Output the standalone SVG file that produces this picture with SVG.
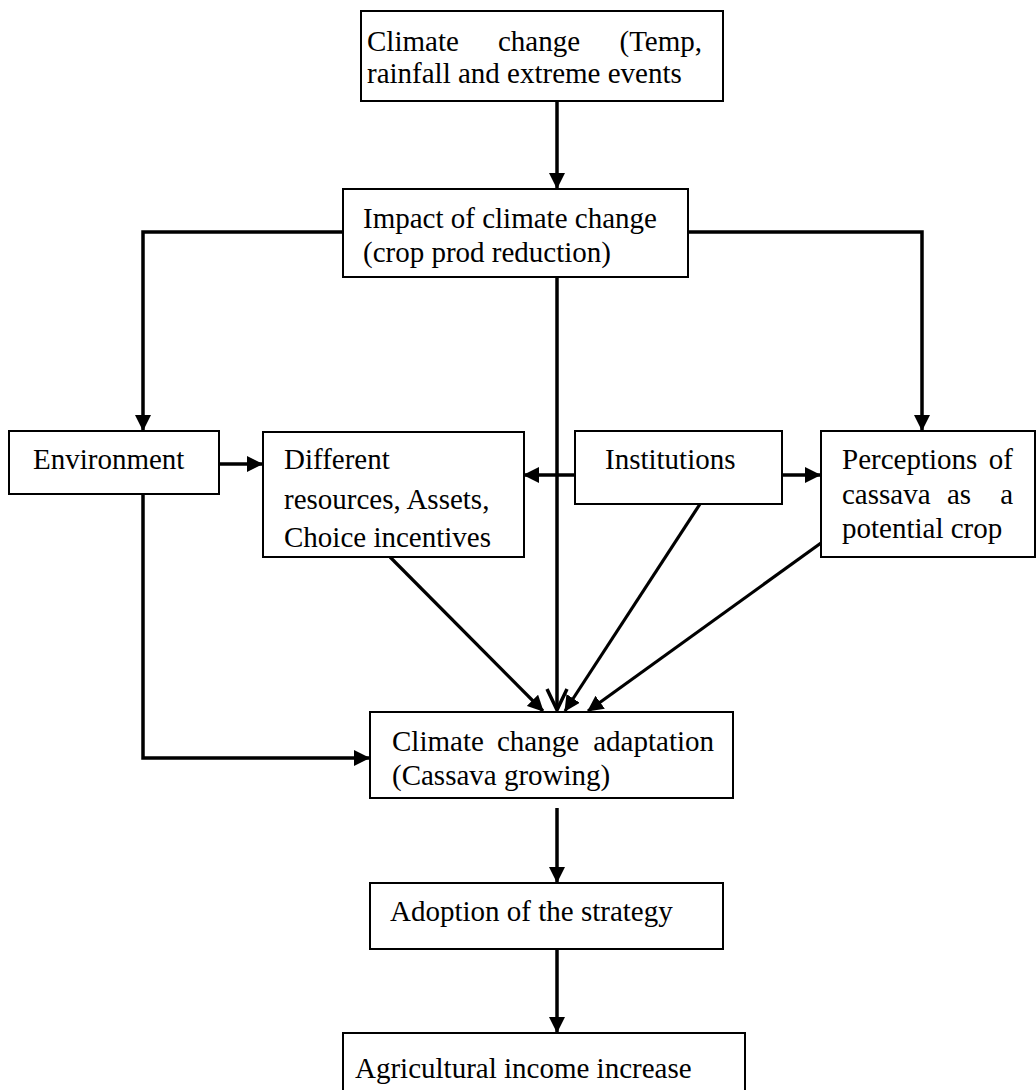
<svg xmlns="http://www.w3.org/2000/svg" width="1036" height="1090" viewBox="0 0 1036 1090">
<defs>
<style>
.box{fill:#fff;stroke:#000;stroke-width:2}
.t{font-family:"Liberation Serif","Times New Roman",serif;font-size:29px;fill:#000}
.c{fill:none;stroke:#000;stroke-width:3.5}
.d{fill:none;stroke:#000;stroke-width:3.2}
</style>
<marker id="ah" viewBox="0 0 16 16" refX="15" refY="8" markerWidth="16" markerHeight="16" markerUnits="userSpaceOnUse" orient="auto">
<path d="M0,0 L16,8 L0,16 Z" fill="#000"/>
</marker>
</defs>
<rect width="1036" height="1090" fill="#fff"/>
<g id="connectors">
<path class="c" d="M557,101 V188" marker-end="url(#ah)"/>
<path class="c" d="M343,232 H143 V430" marker-end="url(#ah)"/>
<path class="c" d="M688,232 H922 V430" marker-end="url(#ah)"/>
<path class="c" d="M219,464 H262" marker-end="url(#ah)"/>
<path class="c" d="M575,475 H524" marker-end="url(#ah)"/>
<path class="c" d="M782,475 H820" marker-end="url(#ah)"/>
<path class="d" d="M390,557 L543,711" marker-end="url(#ah)"/>
<path class="d" d="M700,504 L565,711" marker-end="url(#ah)"/>
<path class="d" d="M821,543 L588,711" marker-end="url(#ah)"/>
<path class="c" d="M557,277 V710"/>
<path class="c" d="M547,689 L557,710 L567,689"/>
<path class="c" d="M143,494 V758 H369" marker-end="url(#ah)"/>
<path class="c" d="M557,808 V882" marker-end="url(#ah)"/>
<path class="c" d="M557,949 V1032" marker-end="url(#ah)"/>
</g>
<g id="climate-change">
<rect class="box" x="361" y="11" width="362" height="90"/>
<text class="t" y="51"><tspan x="367">Climate</tspan><tspan x="498">change</tspan><tspan x="702" text-anchor="end">(Temp,</tspan></text>
<text class="t" x="367" y="83">rainfall and extreme events</text>
</g>
<g id="impact">
<rect class="box" x="343" y="189" width="345" height="88"/>
<text class="t" x="363" y="228">Impact of climate change</text>
<text class="t" x="363" y="262">(crop prod reduction)</text>
</g>
<g id="environment">
<rect class="box" x="9" y="431" width="210" height="63"/>
<text class="t" x="33" y="469">Environment</text>
</g>
<g id="resources">
<rect class="box" x="263" y="432" width="261" height="125"/>
<text class="t" x="284" y="469">Different</text>
<text class="t" x="284" y="509">resources, Assets,</text>
<text class="t" x="284" y="547">Choice incentives</text>
</g>
<g id="institutions">
<rect class="box" x="575" y="431" width="207" height="73"/>
<text class="t" x="605" y="469">Institutions</text>
</g>
<g id="perceptions">
<rect class="box" x="821" y="431" width="214" height="126"/>
<text class="t" y="469"><tspan x="842">Perceptions</tspan><tspan x="1013" text-anchor="end">of</tspan></text>
<text class="t" y="504"><tspan x="842">cassava</tspan><tspan x="947">as</tspan><tspan x="1013" text-anchor="end">a</tspan></text>
<text class="t" x="842" y="538">potential crop</text>
</g>
<g id="adaptation">
<rect class="box" x="370" y="712" width="363" height="86"/>
<text class="t" y="751"><tspan x="392">Climate</tspan><tspan x="497">change</tspan><tspan x="714" text-anchor="end">adaptation</tspan></text>
<text class="t" x="392" y="785">(Cassava growing)</text>
</g>
<g id="adoption">
<rect class="box" x="370" y="883" width="353" height="66"/>
<text class="t" x="390" y="921">Adoption of the strategy</text>
</g>
<g id="income">
<rect class="box" x="343" y="1033" width="402" height="70"/>
<text class="t" x="355" y="1078">Agricultural income increase</text>
</g>
</svg>
